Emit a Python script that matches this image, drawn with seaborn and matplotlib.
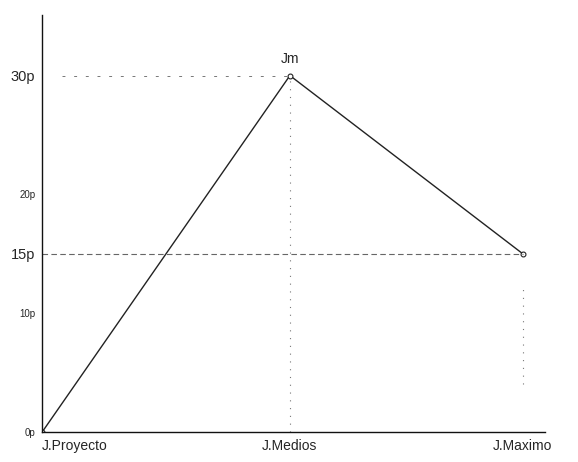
import seaborn as sns
import matplotlib.pyplot as plt
import pandas as pd

# puntos de la curva
etapas = ["J.Proyecto", "J.Medios", "J.Maximo"]
posicion = [0.0, 1.0, 1.94]
puntos = [0, 30, 15]

# etiquetas del eje y
y_ticks = [0, 10, 15, 20, 30]
y_labels = ["0p", "10p", "15p", "20p", "30p"]
y_sizes = [7, 7, 10.5, 7, 10.5]

data = pd.DataFrame({"etapa": etapas, "x": posicion, "y": puntos})

sns.set_style("white")
plt.rcParams["font.family"] = ["Liberation Sans", "DejaVu Sans"]

fig = plt.figure(figsize=(5.78, 4.62), dpi=100)
ax = fig.add_axes([0.073, 0.065, 0.87, 0.9026])

sns.lineplot(x="x", y="y", data=data, ax=ax, color="#222222", linewidth=1.0,
             marker="o", markersize=3.5, markerfacecolor="white",
             markeredgecolor="#222222", markeredgewidth=0.8)

# guias
ax.plot([0.08, 1.0], [30, 30], color="#777777", linestyle=(0, (3, 9)), linewidth=0.7)
ax.plot([0.0, 1.94], [15, 15], color="#666666", linestyle=(0, (5, 3)), linewidth=0.8)
ax.plot([1.0, 1.0], [0, 30], color="#777777", linestyle=(0, (1, 6)), linewidth=0.8)
ax.plot([1.94, 1.94], [4, 12], color="#777777", linestyle=(0, (1, 6)), linewidth=0.8)

ax.text(1.0, 30.8, "Jm", ha="center", va="bottom", fontsize=10)

ax.set_xlim(0, 2.03)
ax.set_ylim(0, 35.1)
ax.set_xticks(posicion)
ax.set_xticklabels(etapas, fontsize=10)
ax.set_yticks(y_ticks)
ax.set_yticklabels(y_labels)
for lbl, s in zip(ax.get_yticklabels(), y_sizes):
    lbl.set_fontsize(s)
for lbl, ha in zip(ax.get_xticklabels(), ["left", "center", "center"]):
    lbl.set_ha(ha)
ax.tick_params(axis="x", length=0, pad=5)
ax.tick_params(axis="y", length=0, pad=5)
ax.set_xlabel("")
ax.set_ylabel("")

for s in ["top", "right"]:
    ax.spines[s].set_visible(False)
for s in ["left", "bottom"]:
    ax.spines[s].set_color("#111111")
    ax.spines[s].set_linewidth(1.0)

fig.savefig("out.png", dpi=100)
